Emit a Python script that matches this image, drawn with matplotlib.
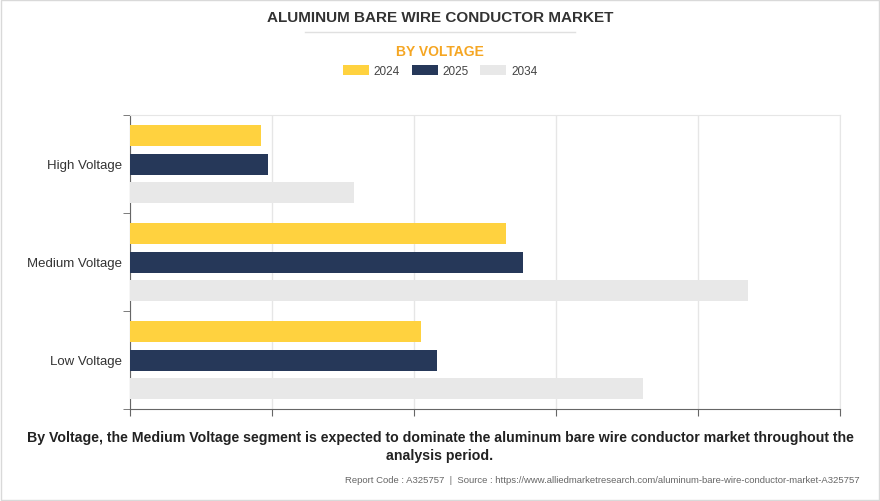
import matplotlib
matplotlib.use("Agg")
import matplotlib.pyplot as plt
import numpy as np
from matplotlib.patches import Rectangle
from matplotlib.lines import Line2D

plt.rcParams["font.family"] = "Liberation Sans"

categories = ["High Voltage", "Medium Voltage", "Low Voltage"]
years = ["2024", "2025", "2034"]
v2024 = [0.92, 2.65, 2.05]
v2025 = [0.97, 2.77, 2.16]
v2034 = [1.58, 4.35, 3.61]
colors = ["#FFD23F", "#263859", "#E8E8E8"]

fig = plt.figure(figsize=(8.8, 5.02), dpi=100)
fig.patch.set_facecolor("white")
fig.add_artist(Rectangle((0.001, 0.001), 0.998, 0.998, transform=fig.transFigure,
                         fill=False, edgecolor="#d9d9d9", lw=1))
ax = fig.add_axes([130/880, 1-410/502, 710/880, 294/502])

n = len(categories)
bh = 21/98
off = 28.5/98
for i, (vals, c, y) in enumerate(zip([v2024, v2025, v2034], colors, years)):
    pos = [k + (i-1)*off for k in range(n)]
    ax.barh(pos, vals, height=bh, color=c, label=y, zorder=3)

ax.set_ylim(n-0.5, -0.5)
ax.set_xlim(0, 5)
ax.set_xticks(range(6))
ax.set_xticklabels([])
ax.grid(axis="x", color="#e6e6e6", lw=1, zorder=0)
ax.set_yticks(range(n))
ax.set_yticklabels(categories, fontsize=9.5, color="#333333")
ax.tick_params(axis="y", length=0, pad=6)
ax.set_yticks([k-0.5 for k in range(n+1)], minor=True)
ax.tick_params(axis="y", which="minor", length=5, color="#666666")
ax.tick_params(axis="x", length=5, color="#666666")
ax.spines["top"].set_color("#e6e6e6")
ax.spines["right"].set_color("#e6e6e6")
ax.spines["left"].set_color("#666666")
ax.spines["bottom"].set_color("#666666")

fig.text(0.5, 1-18/502, "ALUMINUM BARE WIRE CONDUCTOR MARKET", ha="center", va="center",
         fontsize=11, fontweight="bold", color="#333333")
fig.add_artist(Line2D([305/880, 575/880], [1-33/502]*2, color="#e0e0e0", lw=1))
fig.text(0.5, 1-52/502, "BY VOLTAGE", ha="center", va="center", fontsize=10,
         fontweight="bold", color="#F5A623")
fig.legend(loc="center", bbox_to_anchor=(0.5, 1-72/502), ncol=3, frameon=False,
           fontsize=8.5, handlelength=2.2, handleheight=0.9, columnspacing=1.0,
           handletextpad=0.4, labelcolor="#444444")
fig.text(0.5, 1-438/502, "By Voltage, the Medium Voltage segment is expected to dominate the aluminum bare wire conductor market throughout the",
         ha="center", va="center", fontsize=10.2, fontweight="bold", color="#222222")
fig.text(0.5, 1-456/502, "analysis period.", ha="center", va="center", fontsize=10.2,
         fontweight="bold", color="#222222")
fig.text(860/880, 1-481/502, "Report Code : A325757  |  Source : https://www.alliedmarketresearch.com/aluminum-bare-wire-conductor-market-A325757",
         ha="right", va="center", fontsize=6.8, color="#666666")
fig.savefig("out.png", dpi=100, facecolor="white")
